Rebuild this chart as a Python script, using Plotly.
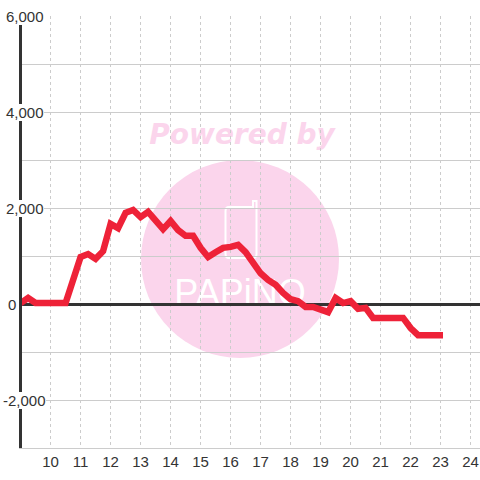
import plotly.graph_objects as go

hours = [9 + i * 0.25 for i in range(56)] + [23.08]
values = [20, 125, 20, 20, 20, 20, 20,
          500, 980, 1040, 940, 1100, 1670, 1580, 1900, 1960, 1810, 1920, 1750, 1560,
          1730, 1540, 1420, 1420, 1170, 980, 1080, 1170, 1190, 1230, 1080, 870, 640,
          500, 400, 230, 100, 60, -60, -60, -100, -170, 125, 20, 60, -100, -80,
          -290, -290, -290, -290, -290, -500, -650, -650, -650, -650]
y_tick_vals = [6000, 4000, 2000, 0, -2000]
y_tick_text = ["6,000", "4,000", "2,000", "0", "-2,000"]
y_tick_left_px = [6, 6, 6, 8, 3]
x_ticks = list(range(10, 25))

W, H = 480, 480
L, R, T, B = 22, 0, 16, 32


def px(x):
    return (x - L) / (W - L - R)


def py(y):
    return (H - B - y) / (H - T - B)


PINK = "#fbd5ec"
shapes = [
    dict(type="circle", xref="paper", yref="paper", layer="below",
         x0=px(141), x1=px(339), y0=py(358), y1=py(160),
         fillcolor=PINK, line=dict(width=0)),
    dict(type="path", xref="paper", yref="paper", layer="below",
         path=(f"M {px(253)} {py(207)} L {px(229)} {py(207)} Q {px(225.5)} {py(207)} {px(225.5)} {py(211)} "
               f"L {px(225.5)} {py(254)} Q {px(225.5)} {py(258)} {px(229)} {py(258)} "
               f"L {px(253)} {py(258)} Q {px(256.5)} {py(258)} {px(256.5)} {py(254)} "
               f"L {px(256.5)} {py(201)} L {px(253)} {py(201)} Z"),
         line=dict(color="white", width=2), fillcolor="rgba(0,0,0,0)"),
    dict(type="rect", xref="paper", yref="paper", layer="below",
         x0=px(140), x1=px(344), y0=py(148), y1=py(116),
         line=dict(width=0), fillcolor="rgba(0,0,0,0)",
         label=dict(text="Powered by", textposition="middle center",
                    font=dict(family="DejaVu Sans", size=28, color=PINK, weight="bold", style="italic"))),
    dict(type="rect", xref="paper", yref="paper", layer="below",
         x0=px(170), x1=px(310), y0=py(306), y1=py(272),
         line=dict(width=0), fillcolor="rgba(0,0,0,0)",
         label=dict(text="PAPiNO", textposition="middle center",
                    font=dict(family="Liberation Sans", size=36, color="white"))),
]

annotations = [
    dict(text=t, xref="paper", yref="y", x=px(lp), y=v, xanchor="left", yanchor="middle",
         showarrow=False, bgcolor="white", borderpad=0, borderwidth=0,
         font=dict(family="Liberation Sans", size=15, color="#333333"))
    for v, t, lp in zip(y_tick_vals, y_tick_text, y_tick_left_px)
]

fig = go.Figure(go.Scatter(
    x=hours, y=values, mode="lines",
    line=dict(color="#ee2238", width=6.5, shape="linear"),
    cliponaxis=False, hoverinfo="skip",
))

fig.update_layout(
    width=W, height=H, autosize=False,
    margin=dict(l=L, r=R, t=T, b=B, pad=0),
    paper_bgcolor="white", plot_bgcolor="rgba(0,0,0,0)",
    showlegend=False, shapes=shapes, annotations=annotations,
    xaxis=dict(range=[9.047, 24.313], tickmode="array", tickvals=x_ticks,
               ticks="outside", ticklen=0, tickcolor="rgba(0,0,0,0)",
               showgrid=True, gridcolor="#cccccc", gridwidth=1, griddash="3px,3px",
               showline=True, linecolor="#cccccc", linewidth=1, zeroline=False,
               tickfont=dict(family="Liberation Sans", size=15, color="#333333")),
    yaxis=dict(range=[-3000, 6000], tick0=0, dtick=1000, showticklabels=False, ticks="",
               showgrid=True, gridcolor="#cccccc", gridwidth=1,
               showline=True, linecolor="#333333", linewidth=3,
               zeroline=True, zerolinecolor="#333333", zerolinewidth=3),
)

fig.write_html("out.html", config=dict(displayModeBar=False),
               post_script="document.body.style.margin='0';document.body.style.overflow='hidden';")
